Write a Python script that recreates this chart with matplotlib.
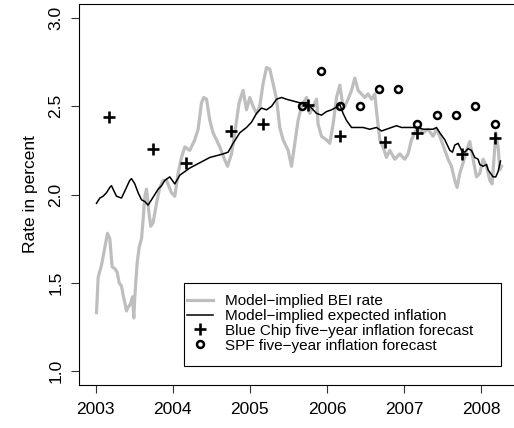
import matplotlib
matplotlib.use("Agg")
import matplotlib.pyplot as plt
from matplotlib.lines import Line2D
from matplotlib.patches import Rectangle
from matplotlib.legend_handler import HandlerLine2D

plt.rcParams['font.family'] = ['Liberation Sans', 'DejaVu Sans']

# ---- data ----
bei_dates = [2003.013, 2003.034, 2003.078, 2003.120, 2003.155, 2003.185, 2003.215, 2003.250,
             2003.280, 2003.306, 2003.337, 2003.358, 2003.402, 2003.422, 2003.453, 2003.479,
             2003.496, 2003.509, 2003.539, 2003.565, 2003.596, 2003.617, 2003.639, 2003.661,
             2003.694, 2003.716, 2003.746, 2003.790, 2003.833, 2003.876, 2003.920, 2003.984,
             2004.027, 2004.070, 2004.114, 2004.157, 2004.221, 2004.286, 2004.329, 2004.373,
             2004.403, 2004.438, 2004.481, 2004.523, 2004.567, 2004.610, 2004.662, 2004.710,
             2004.762, 2004.804, 2004.860, 2004.912, 2004.956, 2004.999, 2005.041, 2005.086,
             2005.128, 2005.171, 2005.215, 2005.258, 2005.300, 2005.345, 2005.387, 2005.430,
             2005.495, 2005.539, 2005.582, 2005.624, 2005.668, 2005.733, 2005.776, 2005.819,
             2005.863, 2005.883, 2005.927, 2005.992, 2006.035, 2006.078, 2006.122, 2006.165,
             2006.199, 2006.229, 2006.272, 2006.316, 2006.359, 2006.402, 2006.446, 2006.488,
             2006.531, 2006.575, 2006.618, 2006.648, 2006.683, 2006.725, 2006.769, 2006.812,
             2006.877, 2006.942, 2007.006, 2007.049, 2007.093, 2007.136, 2007.179, 2007.244,
             2007.308, 2007.373, 2007.417, 2007.460, 2007.525, 2007.567, 2007.611, 2007.654,
             2007.684, 2007.719, 2007.762, 2007.806, 2007.848, 2007.891, 2007.935, 2007.978,
             2008.021, 2008.065, 2008.108, 2008.137, 2008.163, 2008.185, 2008.215, 2008.237,
             2008.259]
bei_vals = [1.33, 1.53, 1.60, 1.70, 1.78, 1.75, 1.59, 1.58,
            1.56, 1.50, 1.48, 1.43, 1.34, 1.36, 1.38, 1.42,
            1.30, 1.42, 1.61, 1.70, 1.75, 1.86, 1.99, 2.03,
            1.89, 1.82, 1.84, 1.95, 2.04, 2.08, 2.08, 2.01,
            1.99, 2.12, 2.21, 2.27, 2.25, 2.31, 2.37, 2.52,
            2.55, 2.54, 2.42, 2.35, 2.31, 2.27, 2.21, 2.16,
            2.23, 2.35, 2.52, 2.59, 2.48, 2.55, 2.50, 2.46,
            2.50, 2.63, 2.72, 2.71, 2.63, 2.54, 2.38, 2.31,
            2.25, 2.16, 2.29, 2.42, 2.50, 2.55, 2.46, 2.50,
            2.54, 2.40, 2.33, 2.31, 2.29, 2.40, 2.55, 2.62,
            2.52, 2.50, 2.54, 2.59, 2.66, 2.59, 2.57, 2.55,
            2.57, 2.54, 2.57, 2.44, 2.31, 2.27, 2.21, 2.25,
            2.20, 2.23, 2.20, 2.23, 2.31, 2.35, 2.38, 2.35,
            2.37, 2.33, 2.37, 2.33, 2.25, 2.20, 2.16, 2.08,
            2.04, 2.12, 2.18, 2.25, 2.30, 2.20, 2.10, 2.12,
            2.20, 2.16, 2.08, 2.06, 2.21, 2.35, 2.27, 2.14,
            2.16]

exp_dates = [2003.013, 2003.056, 2003.098, 2003.142, 2003.185, 2003.207, 2003.228, 2003.272,
             2003.337, 2003.380, 2003.422, 2003.444, 2003.466, 2003.509, 2003.552, 2003.596,
             2003.639, 2003.681, 2003.725, 2003.768, 2003.811, 2003.855, 2003.898, 2003.962,
             2004.027, 2004.093, 2004.221, 2004.351, 2004.481, 2004.567, 2004.653, 2004.718,
             2004.782, 2004.869, 2004.956, 2005.021, 2005.086, 2005.150, 2005.215, 2005.280,
             2005.345, 2005.409, 2005.474, 2005.560, 2005.646, 2005.733, 2005.798, 2005.863,
             2005.927, 2005.992, 2006.057, 2006.100, 2006.165, 2006.207, 2006.251, 2006.316,
             2006.402, 2006.466, 2006.553, 2006.640, 2006.705, 2006.769, 2006.834, 2006.899,
             2006.964, 2007.049, 2007.114, 2007.179, 2007.244, 2007.308, 2007.373, 2007.417,
             2007.460, 2007.525, 2007.590, 2007.624, 2007.654, 2007.697, 2007.741, 2007.784,
             2007.826, 2007.870, 2007.913, 2007.956, 2007.978, 2008.021, 2008.065, 2008.086,
             2008.117, 2008.150, 2008.185, 2008.215, 2008.246]
exp_vals = [1.95, 1.98, 1.99, 2.01, 2.04, 2.05, 2.03, 1.99,
            1.98, 2.02, 2.06, 2.08, 2.09, 2.06, 2.01, 1.97,
            1.96, 1.94, 1.97, 2.00, 2.03, 2.05, 2.08, 2.10,
            2.06, 2.11, 2.15, 2.18, 2.21, 2.22, 2.23, 2.24,
            2.29, 2.35, 2.38, 2.41, 2.46, 2.49, 2.48, 2.50,
            2.54, 2.55, 2.54, 2.53, 2.52, 2.52, 2.49, 2.46,
            2.45, 2.47, 2.48, 2.49, 2.51, 2.46, 2.42, 2.38,
            2.38, 2.38, 2.37, 2.38, 2.36, 2.37, 2.38, 2.39,
            2.38, 2.38, 2.38, 2.38, 2.37, 2.37, 2.37, 2.38,
            2.35, 2.31, 2.25, 2.24, 2.28, 2.29, 2.25, 2.24,
            2.26, 2.25, 2.21, 2.20, 2.17, 2.16, 2.17, 2.14,
            2.12, 2.10, 2.10, 2.13, 2.19]

bc_dates = [2003.17, 2003.75, 2004.17, 2004.75, 2005.17, 2005.75,
            2006.17, 2006.75, 2007.17, 2007.75, 2008.17]
bc_vals = [2.44, 2.26, 2.18, 2.36, 2.40, 2.51, 2.33, 2.30, 2.35, 2.23, 2.32]

spf_dates = [2005.67, 2005.92, 2006.17, 2006.42, 2006.67, 2006.92,
             2007.17, 2007.42, 2007.67, 2007.92, 2008.17]
spf_vals = [2.50, 2.70, 2.50, 2.50, 2.60, 2.60, 2.40, 2.45, 2.45, 2.50, 2.40]

x_ticks = [2003, 2004, 2005, 2006, 2007, 2008]
y_ticks = [1.0, 1.5, 2.0, 2.5, 3.0]
y_ticklabels = ["1.0", "1.5", "2.0", "2.5", "3.0"]

labels = ["Model\u2212implied BEI rate",
          "Model\u2212implied expected inflation",
          "Blue Chip five\u2212year inflation forecast",
          "SPF five\u2212year inflation forecast"]


class LeftMarkerHandler(HandlerLine2D):
    """Place the single legend marker left of the handle centre (R style)."""
    def get_xdata(self, legend, xdescent, ydescent, width, height, fontsize):
        xdata = [-xdescent, -xdescent + width]
        return xdata, [-xdescent + 0.27 * width]


# ---- figure ----
W, H = 514, 428
fig = plt.figure(figsize=(W / 100, H / 100), dpi=100)
left, right, top, bottom = 79.3, 517.0, 4.0, 385.0
ax = fig.add_axes([left / W, 1 - bottom / H, (right - left) / W, (bottom - top) / H])

ax.plot(bei_dates, bei_vals, color="#BEBEBE", lw=2.3, solid_joinstyle="round")
ax.plot(exp_dates, exp_vals, color="black", lw=1.1)
ax.plot(bc_dates, bc_vals, ls="none", marker="+", color="black", ms=8.5, mew=1.9)
ax.plot(spf_dates, spf_vals, ls="none", marker="o", mfc="none", mec="black", ms=5, mew=1.8)

ax.set_xlim(2002.79, 2008.46)
ax.set_ylim(0.92, 3.08)

ax.set_xticks(x_ticks)
ax.set_xticklabels([str(t) for t in x_ticks])
ax.set_yticks(y_ticks)
ax.set_yticklabels(y_ticklabels)

for s in ax.spines.values():
    s.set_linewidth(0.8)
    s.set_color("black")

ax.tick_params(axis="both", direction="out", length=6, width=0.8, color="#333333",
               labelsize=12.5, labelcolor="black")
ax.tick_params(axis="x", pad=6.5)
ax.tick_params(axis="y", pad=5.5)
for lab in ax.get_yticklabels():
    lab.set_rotation(90)
    lab.set_va("center")
    lab.set_ha("right")

ax.set_ylabel("Rate in percent", fontsize=12.5)
ax.yaxis.label.set_rotation_mode("default")
ax.yaxis.label.set_va("center")
ax.yaxis.label.set_ha("center")
ax.yaxis.set_label_coords((30 - left) / (right - left), 0.5)

# legend frame (R draws a box wider than the text)
box = Rectangle((184 / W, 1 - 366 / H), (500.7 - 184) / W, (366 - 283) / H,
                transform=fig.transFigure, facecolor="white", edgecolor="black",
                linewidth=0.8, zorder=4)
ax.add_patch(box)

handles = [
    Line2D([], [], color="#BEBEBE", lw=2.3),
    Line2D([], [], color="black", lw=1.1),
    Line2D([], [], ls="none", marker="+", color="black", ms=8.5, mew=1.9),
    Line2D([], [], ls="none", marker="o", mfc="none", mec="black", ms=5, mew=1.8),
]
leg = ax.legend(handles, labels, loc="upper left",
                bbox_to_anchor=(187 / W, 1 - 294 / H), bbox_transform=fig.transFigure,
                borderaxespad=0, borderpad=0, fontsize=11, frameon=False,
                handlelength=1.7, handletextpad=0.8, labelspacing=0.06, numpoints=1,
                handler_map={handles[2]: LeftMarkerHandler(),
                             handles[3]: LeftMarkerHandler()})
leg.set_zorder(5)

fig.savefig("out.png", dpi=100)
